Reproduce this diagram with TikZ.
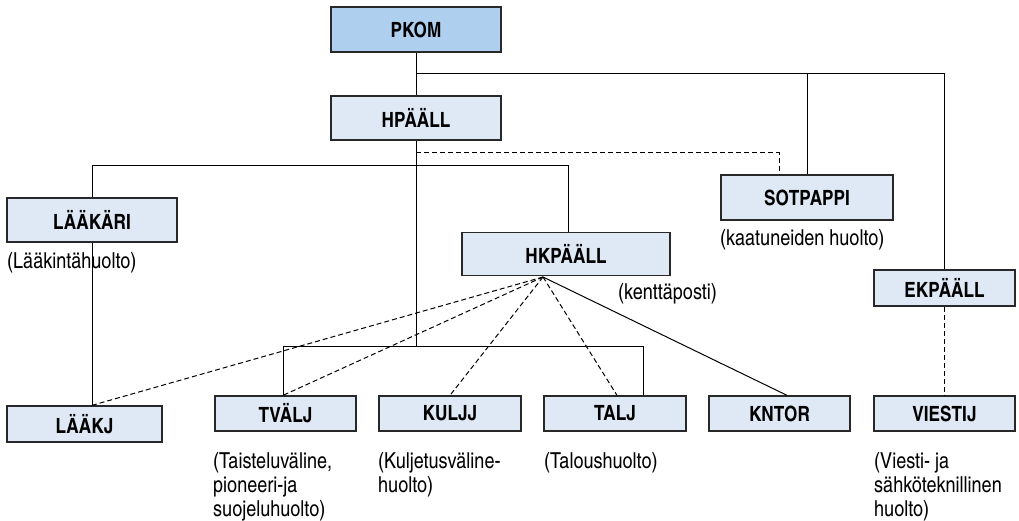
\documentclass[tikz,border=0pt]{standalone}
\usepackage{fontspec}
\setmainfont{texgyreheroscn-regular.otf}[BoldFont=texgyreheroscn-bold.otf]
\definecolor{topfill}{RGB}{174,208,238}
\definecolor{boxfill}{RGB}{223,233,246}
\definecolor{boxline}{RGB}{40,40,40}
\tikzset{
  unit/.style={draw=boxline, line width=1.3pt, fill=boxfill, inner sep=0pt,
    font=\bfseries\fontsize{21}{24}\selectfont},
  note/.style={inner sep=0pt, align=left, anchor=base west,
    font=\fontsize{22}{24}\selectfont},
  link/.style={line width=1pt, draw=black},
  dlink/.style={line width=1pt, draw=black, dash pattern=on 5pt off 3pt}
}
\begin{document}
\begin{tikzpicture}[x=1pt,y=-1pt]
\useasboundingbox (0,0) rectangle (1019,521);
% boxes
\node[unit, fill=topfill, minimum width=170pt, minimum height=45pt] (pkom) at (416,29.5) {PKOM};
\node[unit, minimum width=170pt, minimum height=44pt] (hp) at (416,118) {HPÄÄLL};
\node[unit, minimum width=170pt, minimum height=44pt] (lk) at (92,220) {LÄÄKÄRI};
\node[unit, minimum width=172pt, minimum height=45pt] (sot) at (807,197.5) {SOTPAPPI};
\node[unit, minimum width=208pt, minimum height=43pt] (hk) at (566,254) {HKPÄÄLL};
\node[unit, minimum width=141pt, minimum height=36pt] (ek) at (944.5,288) {EKPÄÄLL};
\node[unit, minimum width=155pt, minimum height=36pt] (lj) at (84.5,424) {LÄÄKJ};
\node[unit, minimum width=141pt, minimum height=35pt] (tv) at (285.5,413.5) {TVÄLJ};
\node[unit, minimum width=142pt, minimum height=35pt] (kj) at (450,413.5) {KULJJ};
\node[unit, minimum width=142pt, minimum height=35pt] (tl) at (615,413.5) {TALJ};
\node[unit, minimum width=141pt, minimum height=35pt] (kn) at (779.5,413.5) {KNTOR};
\node[unit, minimum width=141pt, minimum height=35pt] (vi) at (944.5,413.5) {VIESTIJ};
% notes (base = baseline of last line)
\node[note] (n1) at (7,268) {(Lääkintähuolto)};
\node[note] (n2) at (720,246) {(kaatuneiden huolto)};
\node[note] (n3) at (618,299) {(kenttäposti)};
\node[note] (n4) at (213,516) {(Taisteluväline,\\pioneeri-ja\\suojeluhuolto)};
\node[note] (n5) at (378,492) {(Kuljetusväline-\\huolto)};
\node[note] (n6) at (544,468) {(Taloushuolto)};
\node[note] (n7) at (874,516) {(Viesti- ja\\sähköteknillinen\\huolto)};
% helper coordinates
\coordinate (j1) at (416,74);
\coordinate (sd) at (779,153);
\coordinate (h2) at (568,166);
\coordinate (b1) at (283,346);
\coordinate (b2) at (643,346);
\coordinate (hko) at (543,277);
% connectors
\draw[link] (pkom.south) -- (hp.north);
\draw[link] (j1) -| (ek.north);
\draw[link] (sot.north) -- (sot.north |- j1);
\draw[dlink] (hp.south |- sd) -- (sd) -- (sd |- sot.north);
\draw[link] (hp.south) -- (hp.south |- b1);
\draw[link] (lk.north) |- (h2) -- (h2 |- hk.north);
\draw[link] (lk.south) -- (lk.south |- lj.north);
\draw[link] (b1 |- tv.north) -- (b1) -- (b2) -- (b2 |- tl.north);
\draw[dlink] (hko) -- (lk.south |- lj.north);
\draw[dlink] (hko) -- (b1 |- tv.north);
\draw[dlink] (hko) -- (kj.north);
\draw[dlink] (hko) -- ([xshift=2pt]tl.north);
\draw[link] (hko) -- ([xshift=7.5pt]kn.north);
\draw[dlink] (ek.south) -- (vi.north);
\end{tikzpicture}
\end{document}
